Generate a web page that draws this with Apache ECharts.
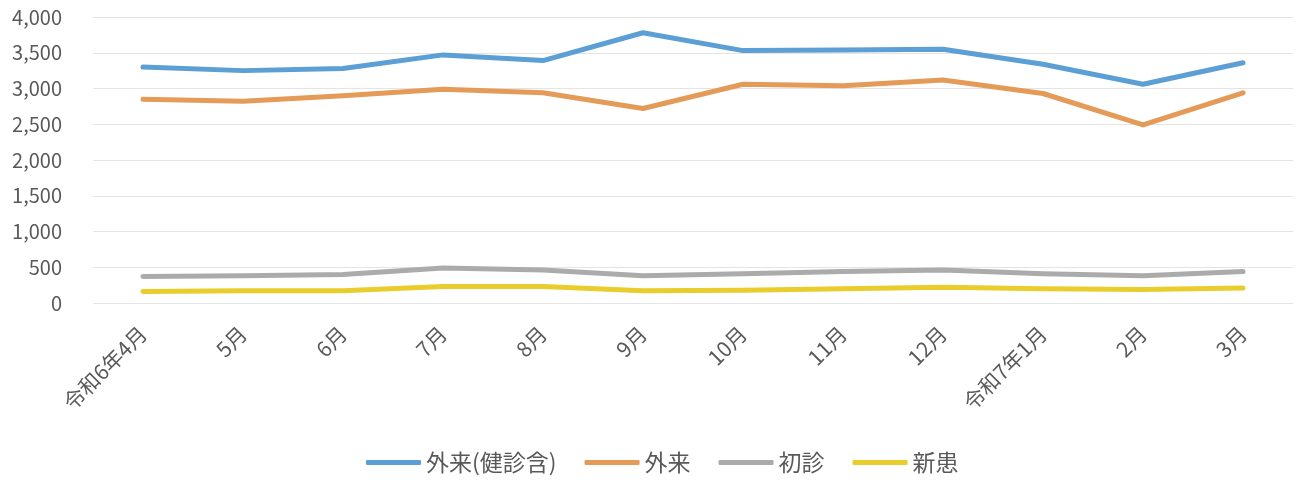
<!DOCTYPE html>
<html>
<head>
<meta charset="utf-8">
<script src="https://cdn.jsdelivr.net/npm/echarts@6/dist/echarts.min.js"></script>
<style>
html,body{margin:0;padding:0;background:#fff;}
#c{width:1297px;height:480px;}
</style>
</head>
<body>
<div id="c"></div>
<script>
const categories = ['令和6年4月','5月','6月','7月','8月','9月','10月','11月','12月','令和7年1月','2月','3月'];
const seriesNames = ['外来(健診含)','外来','初診','新患'];
const gairaiKenshin = [3300,3250,3280,3470,3390,3780,3530,3540,3550,3340,3060,3360];
const gairai = [2850,2820,2900,2990,2940,2720,3060,3040,3120,2930,2490,2940];
const shoshin = [370,380,400,490,460,380,410,440,460,410,380,440];
const shinkan = [160,170,170,230,230,170,180,200,220,200,190,210];
const yTicks = {min:0, max:4000, interval:500};

const colors = ['#5b9fd4','#e59b58','#ababab','#e9cd2c'];
const dataList = [gairaiKenshin, gairai, shoshin, shinkan];
const FONT = '"Noto Sans CJK JP", "Noto Sans", sans-serif';

const chart = echarts.init(document.getElementById('c'));
chart.setOption({
  animation:false,
  backgroundColor:'#ffffff',
  textStyle:{fontFamily:FONT},
  grid:{left:93,right:4,top:17,bottom:177,containLabel:false},
  legend:{
    left:366, top:451, padding:0,
    itemWidth:55, itemHeight:5, itemGap:28,
    textStyle:{fontSize:23,color:'#595959',fontFamily:FONT},
    data:seriesNames.map((n,i)=>({name:n,icon:'roundRect',itemStyle:{color:colors[i]}}))
  },
  xAxis:{
    type:'category',
    data:categories,
    boundaryGap:true,
    axisLine:{show:false},
    axisTick:{show:false},
    axisLabel:{rotate:45,margin:27,fontSize:21,color:'#595959',fontFamily:FONT,interval:0}
  },
  yAxis:{
    type:'value',
    min:yTicks.min,max:yTicks.max,interval:yTicks.interval,
    axisLine:{show:false},
    axisTick:{show:false},
    splitLine:{lineStyle:{color:'#e4e4e4',width:1}},
    axisLabel:{margin:31,fontSize:20,color:'#595959',fontFamily:FONT,
      formatter:v=>v.toLocaleString('en-US')}
  },
  series:dataList.map((d,i)=>({
    name:seriesNames[i],
    type:'line',
    data:d,
    symbol:'none',
    lineStyle:{width:5,color:colors[i],cap:'round',join:'round'},
    itemStyle:{color:colors[i]}
  }))
});
</script>
</body>
</html>
